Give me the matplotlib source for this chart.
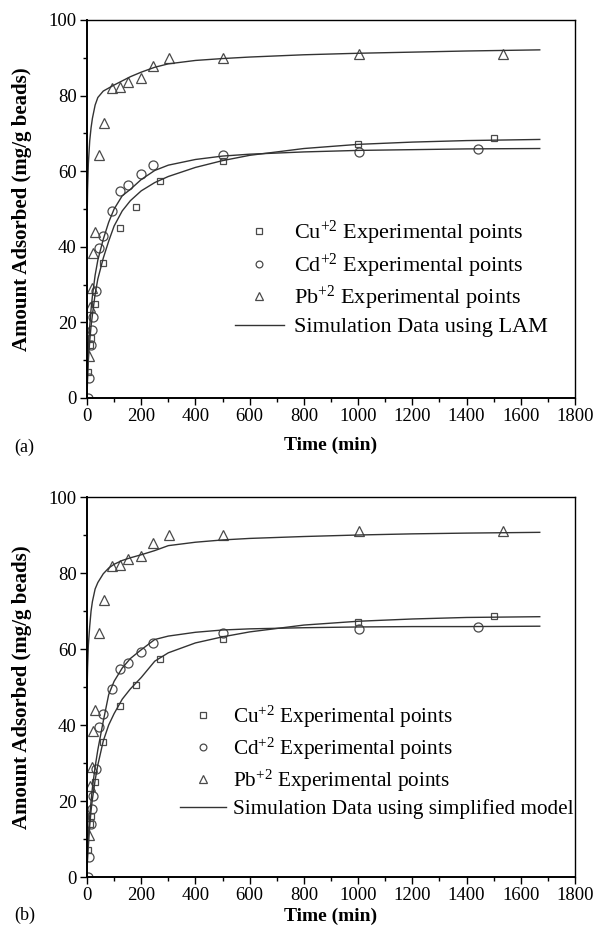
import matplotlib
matplotlib.use("Agg")
import matplotlib.pyplot as plt
from matplotlib.ticker import MultipleLocator

plt.rcParams['font.family'] = ['Liberation Serif', 'DejaVu Serif']
plt.rcParams['mathtext.fontset'] = 'custom'
plt.rcParams['mathtext.rm'] = 'Liberation Serif'
plt.rcParams['mathtext.it'] = 'Liberation Serif:italic'
plt.rcParams['mathtext.bf'] = 'Liberation Serif:bold'

# Experimental points (same in both panels)
cu_t = [5, 10, 15, 30, 60, 120, 180, 270, 500, 1000, 1500]
cu_v = [7, 14, 16, 25, 35.6, 44.9, 50.6, 57.4, 62.7, 67.2, 68.7]
cd_t = [3, 8, 15, 19, 22, 33, 46, 60, 91, 122, 152, 198, 242, 503, 1004, 1444]
cd_v = [0, 5.3, 14, 18, 21.3, 28.4, 39.6, 42.9, 49.5, 54.8, 56.3, 59.2, 61.6, 64.3, 65.2, 65.9]
pb_t = [8, 12, 18, 23, 28, 45, 63, 91, 122, 152, 198, 242, 304, 503, 1004, 1536]
pb_v = [11, 24, 29, 38.3, 44, 64.3, 72.8, 81.9, 82.2, 83.7, 84.6, 87.8, 89.9, 89.9, 91, 91]

# Simulation curves
sim_t = [0, 2, 5, 10, 15, 20, 30, 40, 60, 80, 100, 130, 160, 200, 250, 300,
         400, 500, 600, 800, 1000, 1200, 1400, 1670]
# (a) LAM
pb_lam = [45, 55, 62, 68, 71.5, 74, 77.5, 79.5, 81.2, 82, 82.8, 83.9, 85, 86.2,
          87.5, 88.4, 89.3, 89.8, 90.2, 90.8, 91.2, 91.5, 91.8, 92.1]
cu_lam = [0, 5, 10, 15, 19, 22, 27.5, 31.5, 37, 41.5, 45.5, 49.5, 52.2, 54.8,
          57, 58.6, 61, 62.8, 64.2, 66, 67.1, 67.7, 68.1, 68.4]
cd_lam = [1, 7, 13, 19, 23.5, 27, 32.5, 36.5, 42, 46.5, 50, 53.5, 55.2, 57.8,
          60.2, 61.6, 63.1, 64, 64.5, 65.1, 65.5, 65.7, 65.9, 66]
# (b) simplified model
pb_sim = [48, 55, 61, 66, 70, 72.5, 75.8, 77.5, 79.8, 81.3, 82.3, 83.3, 84, 84.8,
          85.9, 87.2, 88.1, 88.7, 89.1, 89.6, 90, 90.3, 90.5, 90.7]
cu_sim = [2, 4.5, 8, 13.5, 17.5, 20.5, 25.5, 29.5, 35.8, 40, 43, 46.8, 49.5, 52.5,
          56.8, 59, 61.6, 63.2, 64.5, 66.3, 67.3, 67.9, 68.3, 68.5]
cd_sim = [4, 7, 11, 16, 20, 23.5, 29, 33.5, 41, 48, 51.5, 55, 57.5, 59.8, 62.5,
          63.4, 64.4, 65, 65.3, 65.6, 65.8, 65.9, 65.9, 66]

x_ticks = [0, 200, 400, 600, 800, 1000, 1200, 1400, 1600, 1800]
y_ticks = [0, 20, 40, 60, 80, 100]

fig = plt.figure(figsize=(5.94, 9.40), dpi=100)
W, H = 594, 940

def make_axes(top_px, bot_px):
    left, right = 87, 575
    return fig.add_axes([left / W, 1 - bot_px / H, (right - left) / W, (bot_px - top_px) / H])

mcol = '#4a4a4a'
lcol = '#333333'

panels = [
    (make_axes(20, 398), pb_lam, cu_lam, cd_lam, 'Simulation Data using LAM', '(a)',
     (0.303, 0.474), 0.45, 16, 0.2, 8, -0.13),
    (make_axes(497, 877), pb_sim, cu_sim, cd_sim, 'Simulation Data using simplified model', '(b)',
     (0.19, 0.456), 0.3, 15.3, 0.27, 2.5, -0.10),
]

for ax, pb_c, cu_c, cd_c, sim_label, tag, anchor, htp, lfs, lsp, xlp, tag_y in panels:
    ax.plot(cu_t, cu_v, linestyle='none', marker='s', ms=5, mfc='none', mec=mcol, mew=0.9,
            label=r'Cu$^{+2}$ Experimental points')
    ax.plot(cd_t, cd_v, linestyle='none', marker='o', ms=6.5, mfc='none', mec=mcol, mew=0.9,
            label=r'Cd$^{+2}$ Experimental points')
    ax.plot(pb_t, pb_v, linestyle='none', marker='^', ms=7, mfc='none', mec=mcol, mew=0.9,
            label=r'Pb$^{+2}$ Experimental points')
    ax.plot(sim_t, pb_c, color=lcol, lw=1.0, label=sim_label)
    ax.plot(sim_t, cu_c, color=lcol, lw=1.0)
    ax.plot(sim_t, cd_c, color=lcol, lw=1.0)

    ax.set_xlim(0, 1800)
    ax.set_ylim(0, 100)
    ax.set_xticks(x_ticks)
    ax.set_yticks(y_ticks)
    ax.xaxis.set_minor_locator(MultipleLocator(100))
    ax.yaxis.set_minor_locator(MultipleLocator(10))
    ax.tick_params(which='both', direction='out', top=False, right=False, labelsize=13.5, pad=2.5)
    ax.tick_params(which='major', length=5, width=1)
    ax.tick_params(which='minor', length=3, width=1)
    for s in ax.spines.values():
        s.set_linewidth(1.0)
    ax.spines['left'].set_linewidth(1.4)
    ax.spines['bottom'].set_linewidth(1.4)
    ax.set_xlabel('Time (min)', fontsize=14, fontweight='bold', labelpad=xlp)
    ax.set_ylabel('Amount Adsorbed (mg/g beads)', fontsize=15, fontweight='bold', labelpad=12)

    ax.legend(loc='upper left', bbox_to_anchor=anchor, frameon=False, fontsize=lfs,
              handlelength=2.2, handletextpad=htp, labelspacing=lsp,
              markerscale=0.75, borderpad=0, borderaxespad=0)

    ax.text(-0.15, tag_y, tag, transform=ax.transAxes, fontsize=13, ha='left', va='center')

fig.savefig('out.png', dpi=100)
